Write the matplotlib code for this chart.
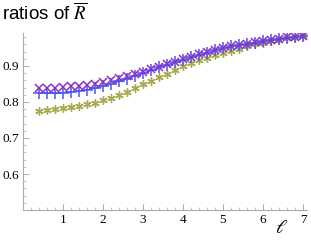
import numpy as np
import matplotlib.pyplot as plt

# data
ell = [0.4, 0.6, 0.8, 1.0, 1.2, 1.4, 1.6, 1.8, 2.0, 2.2, 2.4, 2.6, 2.8, 3.0, 3.2, 3.4, 3.6,
       3.8, 4.0, 4.2, 4.4, 4.6, 4.8, 5.0, 5.2, 5.4, 5.6, 5.8, 6.0, 6.2, 6.4, 6.6, 6.8, 7.0]
ratio_plus = [0.824, 0.824, 0.825, 0.826, 0.828, 0.831, 0.834, 0.838, 0.843, 0.850, 0.857, 0.865,
              0.873, 0.880, 0.888, 0.896, 0.903, 0.910, 0.917, 0.924, 0.930, 0.937, 0.943, 0.949,
              0.954, 0.957, 0.961, 0.965, 0.969, 0.972, 0.975, 0.978, 0.980, 0.982]
ratio_cross = [0.839, 0.839, 0.840, 0.841, 0.843, 0.845, 0.848, 0.851, 0.855, 0.860, 0.866, 0.872,
               0.878, 0.884, 0.891, 0.898, 0.905, 0.912, 0.919, 0.926, 0.932, 0.938, 0.944, 0.950,
               0.955, 0.958, 0.962, 0.966, 0.970, 0.973, 0.976, 0.979, 0.981, 0.983]
ratio_star = [0.776, 0.778, 0.780, 0.782, 0.785, 0.789, 0.793, 0.798, 0.805, 0.812, 0.820, 0.829,
              0.839, 0.849, 0.859, 0.869, 0.879, 0.889, 0.899, 0.908, 0.916, 0.923, 0.929, 0.936,
              0.942, 0.948, 0.954, 0.960, 0.965, 0.969, 0.973, 0.977, 0.980, 0.982]

plt.rcParams['mathtext.fontset'] = 'stix'

fig = plt.figure(figsize=(3.11, 2.42), dpi=100)
ax = fig.add_axes([0.074, 0.132, 0.913, 0.731])

ax.plot(ell, ratio_star, linestyle='none', marker=(6, 2, 0), ms=6, mew=1.0,
        color='#a6a94e')
ax.plot(ell, ratio_plus, color='#4d55f2', lw=0.9, marker='+', ms=8, mew=1.1)
ax.plot(ell, ratio_cross, linestyle='none', marker='x', ms=5.5, mew=1.1,
        color='#8a2fc4')

ax.set_xlim(0, 7.1)
ax.set_ylim(0.5, 0.991)
ax.set_xticks([1, 2, 3, 4, 5, 6, 7])
ax.set_xticks(np.arange(0.2, 7.05, 0.2), minor=True)
ax.set_yticks([0.6, 0.7, 0.8, 0.9])
ax.set_yticks(np.arange(0.52, 0.99, 0.02), minor=True)

for s in ['top', 'right']:
    ax.spines[s].set_visible(False)
for s in ['left', 'bottom']:
    ax.spines[s].set_color('#aaaaaa')
    ax.spines[s].set_linewidth(0.8)

ax.tick_params(which='major', direction='in', length=4, width=0.7, color='#aaaaaa',
               labelsize=9.5, pad=3)
ax.tick_params(which='minor', direction='in', length=2, width=0.6, color='#bbbbbb')
for lab in ax.get_xticklabels() + ax.get_yticklabels():
    lab.set_fontfamily('Liberation Serif')

fig.text(0.008, 0.945, r'ratios of $\overline{R}$', fontsize=13.5,
         family='Liberation Sans', va='center', ha='left')
fig.text(0.905, 0.06, r'$\ell$', fontsize=14, va='center', ha='center')

fig.savefig('out.png', dpi=100)
